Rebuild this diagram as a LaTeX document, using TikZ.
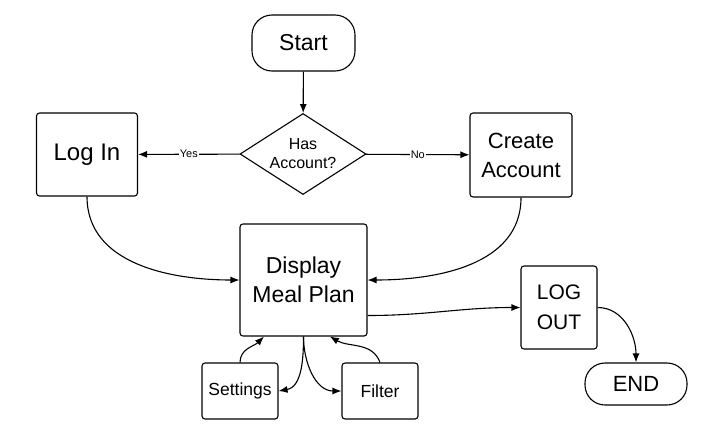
\documentclass[tikz,border=0pt]{standalone}
\usepackage{fontspec}
\setmainfont{Liberation Sans}
\usetikzlibrary{arrows.meta}
\usetikzlibrary{shapes.geometric}
\usetikzlibrary{positioning}

\newcommand{\fs}[2]{\fontsize{#1}{#2}\selectfont}

\begin{document}
\begin{tikzpicture}[x=1pt, y=-1pt, line width=1.1pt,
every node/.style={draw, align=center, inner sep=0pt},
box/.style={rectangle, rounded corners=3pt},
term/.style={rectangle, rounded corners=20pt},
lbl/.style={draw=none, fill=white, font=\fs{11}{12}, inner sep=1pt},
>={Latex[length=9pt, width=7pt]}]
\useasboundingbox (0,0) rectangle (703,431);

\node[term, minimum width=103pt, minimum height=56pt, font=\fs{23}{27}] (start) at (303.5,43) {Start};
\node[diamond, aspect=1.55, minimum width=126pt, minimum height=81pt, font=\fs{16}{19}] (has) at (303,154) {Has\\Account?};
\node[box, minimum width=101pt, minimum height=83pt, font=\fs{24}{29}] (login) at (87,154.5) {Log In};
\node[box, minimum width=102pt, minimum height=84pt, font=\fs{22}{29}] (create) at (521,155) {Create\\Account};
\node[box, minimum width=127pt, minimum height=112pt, font=\fs{23}{29}] (display) at (303.5,280) {Display\\Meal Plan};
\node[box, minimum width=76pt, minimum height=83pt, font=\fs{21}{30}] (logout) at (559,307.5) {LOG\\OUT};
\node[term, minimum width=102pt, minimum height=42pt, font=\fs{22}{26}] (fin) at (636,384) {END};
\foreach \n/\t/\x in {settings/Settings/240, filter/Filter/380}{
\node[box, minimum width=76pt, minimum height=56pt, font=\fs{17.5}{21}] (\n) at (\x,391) {\t};}

\draw[->] (start) -- (has);
\draw[->] (has) -- node[lbl]{Yes} (login);
\draw[->] (has) -- node[lbl]{No} (create);
\draw[->] (login.south) to[out=-90, in=180] (display.west);
\draw[->] (create.south) to[out=-90, in=0] (display.east);
\draw[->] (display.-29) to[out=0, in=180] (logout.west);
\draw[->] (logout.east) to[out=0, in=90] (fin.north);
\draw[->] (settings.north) to[out=90, in=-135] (display.235);
\draw[->] (filter.north) to[out=110, in=-30] (display.-65);
\draw[->] (display.south) to[out=-90, in=10] (settings.east);
\draw[->] (display.south) to[out=-90, in=180] (filter.west);
\end{tikzpicture}
\end{document}
